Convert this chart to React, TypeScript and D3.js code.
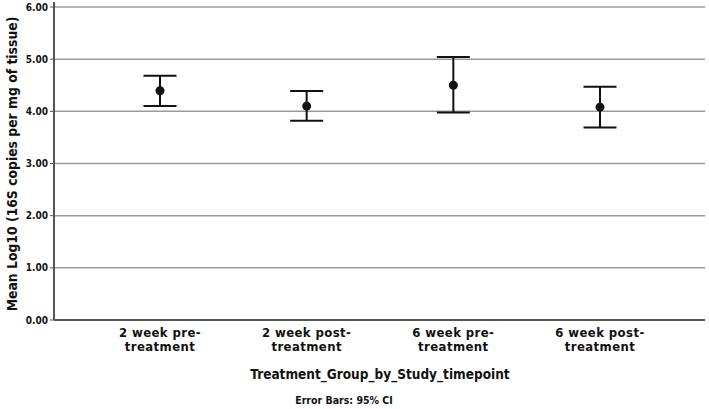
import React from "react";
import * as d3 from "d3";

const categories: string[][] = [
  ["2 week pre-", "treatment"],
  ["2 week post-", "treatment"],
  ["6 week pre-", "treatment"],
  ["6 week post-", "treatment"],
];
const means: number[] = [4.395, 4.10, 4.50, 4.08];
const lower: number[] = [4.10, 3.82, 3.98, 3.69];
const upper: number[] = [4.68, 4.39, 5.04, 4.47];
const yTicks: number[] = [0, 1, 2, 3, 4, 5, 6];
const yTitle = "Mean Log10 (16S copies per mg of tissue)";
const xTitle = "Treatment_Group_by_Study_timepoint";
const footnote = "Error Bars: 95% CI";

const W = 709;
const H = 409;
const FONT = "'DejaVu Sans Condensed', 'DejaVu Sans', sans-serif";

export default function App() {
  const left = 54;
  const right = 705;
  const y = d3.scaleLinear().domain([0, 6]).range([320, 7]);
  const x = d3
    .scalePoint<number>()
    .domain(categories.map((_, i) => i))
    .range([160, 600]);
  const cap = 16.5;

  return (
    <svg
      width={W}
      height={H}
      style={{ position: "absolute", left: 0, top: 0, background: "#fff" }}
    >
      {yTicks.map((t) => (
        <g key={t}>
          {t > 0 && (
            <line x1={left} x2={right} y1={y(t)} y2={y(t)} stroke="#9a9a9a" strokeWidth={1.5} />
          )}
          <line x1={left - 4} x2={left} y1={y(t)} y2={y(t)} stroke="#555" strokeWidth={1} />
          <text
            x={left - 6}
            y={y(t)}
            dy="0.35em"
            textAnchor="end"
            fontFamily={FONT}
            fontWeight="bold"
            fontSize={10}
            fill="#111"
          >
            {d3.format(".2f")(t)}
          </text>
        </g>
      ))}
      <line x1={left} x2={left} y1={2} y2={y(0)} stroke="#555" strokeWidth={2} />
      <line x1={left} x2={right} y1={y(0)} y2={y(0)} stroke="#555" strokeWidth={2} />

      {categories.map((c, i) => (
        <g key={i}>
          <line x1={x(i)} x2={x(i)} y1={y(upper[i])} y2={y(lower[i])} stroke="#111" strokeWidth={2} />
          <line x1={x(i)! - cap} x2={x(i)! + cap} y1={y(upper[i])} y2={y(upper[i])} stroke="#111" strokeWidth={2} />
          <line x1={x(i)! - cap} x2={x(i)! + cap} y1={y(lower[i])} y2={y(lower[i])} stroke="#111" strokeWidth={2} />
          <circle cx={x(i)} cy={y(means[i])} r={4.5} fill="#111" />
          {c.map((line, j) => (
            <text
              key={j}
              x={x(i)}
              y={337 + j * 14}
              textAnchor="middle"
              fontFamily={FONT}
              fontWeight="bold"
              fontSize={13}
              letterSpacing={0.4}
              fill="#111"
            >
              {line}
            </text>
          ))}
        </g>
      ))}

      <text
        x={380}
        y={379}
        textAnchor="middle"
        fontFamily={FONT}
        fontWeight="bold"
        fontSize={13.5}
        fill="#111"
      >
        {xTitle}
      </text>
      <text
        x={344}
        y={404}
        textAnchor="middle"
        fontFamily={FONT}
        fontWeight="bold"
        fontSize={10.5}
        fill="#111"
      >
        {footnote}
      </text>
      <text
        transform={`translate(17,164) rotate(-90)`}
        textAnchor="middle"
        fontFamily={FONT}
        fontWeight="bold"
        fontSize={13.8}
        fill="#111"
      >
        {yTitle}
      </text>
    </svg>
  );
}
